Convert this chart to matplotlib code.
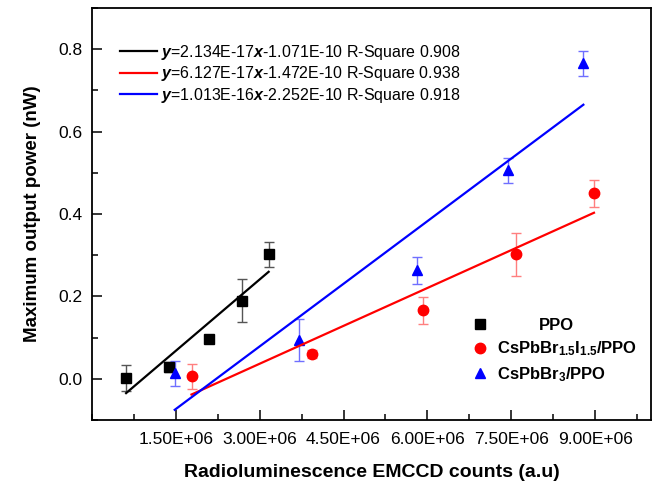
import numpy as np
import matplotlib
matplotlib.use("Agg")
import matplotlib.pyplot as plt
from matplotlib.ticker import MultipleLocator, FixedLocator

plt.rcParams["font.family"] = ["Liberation Sans", "DejaVu Sans"]
plt.rcParams["mathtext.fontset"] = "custom"
plt.rcParams["mathtext.rm"] = "Liberation Sans"
plt.rcParams["mathtext.it"] = "Liberation Sans:italic"
plt.rcParams["mathtext.bf"] = "Liberation Sans:bold"
plt.rcParams["mathtext.bfit"] = "Liberation Sans:bold:italic"

# EMCCD counts vs max output power (nW)
ppo_x = [0.61e6, 1.375e6, 2.09e6, 2.68e6, 3.16e6]
ppo_y = [0.002, 0.029, 0.096, 0.190, 0.302]
ppo_err = [0.031, 0.012, 0.006, 0.052, 0.030]

mix_x = [1.78e6, 3.93e6, 5.92e6, 7.59e6, 8.98e6]
mix_y = [0.006, 0.060, 0.166, 0.302, 0.450]
mix_err = [0.031, 0.010, 0.032, 0.053, 0.032]

br3_x = [1.48e6, 3.70e6, 5.81e6, 7.45e6, 8.79e6]
br3_y = [0.013, 0.094, 0.263, 0.506, 0.766]
br3_err = [0.030, 0.052, 0.033, 0.031, 0.030]

# linear fit coefficients in W per count / W
mix_fit = (6.127e-17, -1.472e-10)
br3_fit = (1.013e-16, -2.252e-10)

fit_labels = [
    r"$\mathbfit{y}$=2.134E-17$\mathbfit{x}$-1.071E-10 R-Square 0.908",
    r"$\mathbfit{y}$=6.127E-17$\mathbfit{x}$-1.472E-10 R-Square 0.938",
    r"$\mathbfit{y}$=1.013E-16$\mathbfit{x}$-2.252E-10 R-Square 0.918",
]
series_labels = [
    "PPO",
    r"CsPbBr$_{\mathbf{1.5}}$I$_{\mathbf{1.5}}$/PPO",
    r"CsPbBr$_{\mathbf{3}}$/PPO",
]

fig = plt.figure(figsize=(6.59, 4.86), dpi=100)
ax = fig.add_axes([92/659, 1 - 420/486, 559/659, 412/486])

pts = []
for x, y, e, mk, c, ec in [
    (ppo_x, ppo_y, ppo_err, "s", "black", "#555555"),
    (mix_x, mix_y, mix_err, "o", "red", "#ff7f7f"),
    (br3_x, br3_y, br3_err, "^", "blue", "#6f6fff"),
]:
    h = ax.errorbar(x, y, yerr=e, fmt=mk, color=c, ms=7.5, ecolor=ec,
                    elinewidth=1.0, capsize=3.5, capthick=1.0, zorder=3)
    pts.append(h[0])

# fit lines over the data range
px = np.array([min(ppo_x), max(ppo_x)])
k, b = np.polyfit(ppo_x, ppo_y, 1)
l1, = ax.plot(px, k*px + b, color="black", lw=1.6, zorder=4)
mx = np.array([min(mix_x), max(mix_x)])
l2, = ax.plot(mx, (mix_fit[0]*mx + mix_fit[1])*1e9, color="red", lw=1.6, zorder=4)
bx = np.array([min(br3_x), max(br3_x)])
l3, = ax.plot(bx, (br3_fit[0]*bx + br3_fit[1])*1e9, color="blue", lw=1.6, zorder=4)

ax.set_xlim(0, 1.0e7)
ax.set_ylim(-0.1, 0.9)
ax.xaxis.set_major_locator(FixedLocator(np.arange(1.5e6, 9.1e6, 1.5e6)))
ax.xaxis.set_minor_locator(MultipleLocator(0.75e6))
ax.set_xticklabels(["1.50E+06", "3.00E+06", "4.50E+06", "6.00E+06", "7.50E+06", "9.00E+06"])
ax.yaxis.set_major_locator(FixedLocator([0.0, 0.2, 0.4, 0.6, 0.8]))
ax.yaxis.set_minor_locator(MultipleLocator(0.1))
ax.set_yticklabels(["0.0", "0.2", "0.4", "0.6", "0.8"])
ax.tick_params(which="both", direction="in", width=1.1, labelsize=12.5)
ax.tick_params(which="major", length=7)
ax.tick_params(which="minor", length=4)
ax.tick_params(axis="x", pad=9)
ax.tick_params(axis="y", pad=7)
for s in ax.spines.values():
    s.set_linewidth(1.3)

ax.set_xlabel("Radioluminescence EMCCD counts (a.u)", fontsize=14, fontweight="bold", labelpad=12)
ax.set_ylabel("Maximum output power (nW)", fontsize=13.5, fontweight="bold", labelpad=12)

leg1 = ax.legend([l1, l2, l3], fit_labels, loc="upper left", bbox_to_anchor=(0.05, 0.915),
                 frameon=False, fontsize=11.5, handlelength=2.3, handletextpad=0.25,
                 labelspacing=0.15, borderpad=0, borderaxespad=0)
ax.add_artist(leg1)

leg2 = ax.legend(pts, series_labels, loc="upper left", bbox_to_anchor=(0.679, 0.248),
                 frameon=False, handlelength=1.0, handletextpad=0.55, labelspacing=0.4,
                 borderpad=0, borderaxespad=0,
                 prop={"size": 12, "weight": "bold"})
leg2.get_texts()[0].set_x(41)

fig.savefig("out.png", dpi=100)
